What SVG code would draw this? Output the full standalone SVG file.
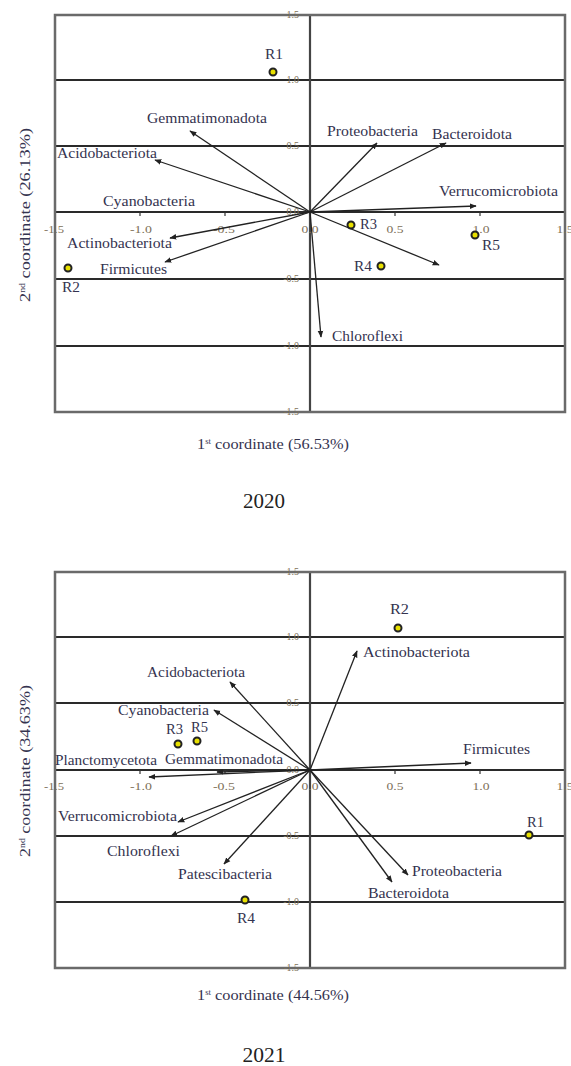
<svg xmlns="http://www.w3.org/2000/svg" width="571" height="1066" viewBox="0 0 571 1066">
<style>
.frame{fill:none;stroke:#6a6a6a;stroke-width:2.5}
.grid{stroke:#2a2a2a;stroke-width:2}
.vax{stroke:#444;stroke-width:2.2}
.tk{stroke:#333;stroke-width:1.2}
.vec{stroke:#222;stroke-width:1.3;fill:none;marker-end:url(#ah)}
.lbl{font-family:"Liberation Serif",serif;font-size:14px;fill:#34334f}
.tl{font-family:"Liberation Serif",serif;font-size:10px;fill:#7d7058}
.ax{font-family:"Liberation Serif",serif;font-size:15px;fill:#34334f}
.yr{font-family:"Liberation Serif",serif;font-size:20px;fill:#222}
.pt{fill:#e8e000;stroke:#222;stroke-width:2}
</style>
<defs>
<marker id="ah" viewBox="0 0 10 10" refX="9" refY="5" markerWidth="7" markerHeight="7" orient="auto" markerUnits="userSpaceOnUse">
<path d="M0,1 L10,5 L0,9 Z" fill="#222"/>
</marker>
</defs>
<rect width="571" height="1066" fill="#fff"/>

<!-- ===== 2020 plot ===== -->
<g id="plot2020">
<g id="axes2020">
<line class="grid" x1="55" y1="80" x2="565" y2="80"/>
<line class="grid" x1="55" y1="146" x2="565" y2="146"/>
<line class="grid" x1="55" y1="212" x2="565" y2="212"/>
<line class="grid" x1="55" y1="279" x2="565" y2="279"/>
<line class="grid" x1="55" y1="346" x2="565" y2="346"/>
<line class="vax" x1="310" y1="15" x2="310" y2="412"/>
<rect class="frame" x="55" y="15" width="510" height="397"/>
<g class="tk">
<line x1="140" y1="212" x2="140" y2="216"/><line x1="225" y1="212" x2="225" y2="216"/>
<line x1="395" y1="212" x2="395" y2="216"/><line x1="480" y1="212" x2="480" y2="216"/>
</g>
<g class="tl" text-anchor="middle">
<text x="54" y="233" textLength="20" lengthAdjust="spacingAndGlyphs">-1.5</text>
<text x="141" y="233" textLength="22" lengthAdjust="spacingAndGlyphs">-1.0</text>
<text x="224" y="233" textLength="22" lengthAdjust="spacingAndGlyphs">-0.5</text>
<text x="310" y="233" textLength="17" lengthAdjust="spacingAndGlyphs">0.0</text>
<text x="395" y="233" textLength="17" lengthAdjust="spacingAndGlyphs">0.5</text>
<text x="481" y="233" textLength="17" lengthAdjust="spacingAndGlyphs">1.0</text>
<text x="565" y="233" textLength="17" lengthAdjust="spacingAndGlyphs">1.5</text>
</g>
<g class="tl" text-anchor="end">
<text x="299" y="18">1.5</text>
<text x="299" y="83">1.0</text>
<text x="299" y="149">0.5</text>
<text x="299" y="215">0.0</text>
<text x="299" y="282">-0.5</text>
<text x="299" y="349">-1.0</text>
<text x="299" y="415">-1.5</text>
</g>
<text class="ax" x="273" y="449" text-anchor="middle" textLength="152" lengthAdjust="spacingAndGlyphs">1<tspan font-size="8" dy="-5">st</tspan><tspan dy="5"> coordinate (56.53%)</tspan></text>
<text class="ax" transform="translate(30,215) rotate(-90)" text-anchor="middle" textLength="174" lengthAdjust="spacingAndGlyphs">2<tspan font-size="8" dy="-5">nd</tspan><tspan dy="5"> coordinate (26.13%)</tspan></text>
<text class="yr" x="264" y="508" text-anchor="middle" textLength="42" lengthAdjust="spacingAndGlyphs">2020</text>
</g>
<g id="connectors2020">
<line class="vec" x1="310" y1="212" x2="190" y2="131"/>
<line class="vec" x1="310" y1="212" x2="155" y2="160"/>
<line class="vec" x1="310" y1="212" x2="170" y2="238"/>
<line class="vec" x1="310" y1="212" x2="165" y2="262"/>
<line class="vec" x1="310" y1="212" x2="377" y2="143"/>
<line class="vec" x1="310" y1="212" x2="446" y2="143"/>
<line class="vec" x1="310" y1="212" x2="476" y2="206"/>
<line class="vec" x1="310" y1="212" x2="439" y2="265"/>
<line class="vec" x1="310" y1="212" x2="321" y2="337"/>
</g>
<g class="lbl">
<text x="147" y="123" textLength="120" lengthAdjust="spacingAndGlyphs">Gemmatimonadota</text>
<text x="57" y="158" textLength="100" lengthAdjust="spacingAndGlyphs">Acidobacteriota</text>
<text x="103" y="206" textLength="92" lengthAdjust="spacingAndGlyphs">Cyanobacteria</text>
<text x="67" y="248" textLength="105" lengthAdjust="spacingAndGlyphs">Actinobacteriota</text>
<text x="100" y="274" textLength="67" lengthAdjust="spacingAndGlyphs">Firmicutes</text>
<text x="327" y="136" textLength="91" lengthAdjust="spacingAndGlyphs">Proteobacteria</text>
<text x="432" y="139" textLength="80" lengthAdjust="spacingAndGlyphs">Bacteroidota</text>
<text x="439" y="196" textLength="119" lengthAdjust="spacingAndGlyphs">Verrucomicrobiota</text>
<text x="332" y="341" textLength="71" lengthAdjust="spacingAndGlyphs">Chloroflexi</text>
</g>
<g id="R1_2020"><circle class="pt" cx="273" cy="72" r="3.5"/><text class="lbl" x="265" y="59" textLength="18" lengthAdjust="spacingAndGlyphs">R1</text></g>
<g id="R2_2020"><circle class="pt" cx="68" cy="268" r="3.5"/><text class="lbl" x="62" y="292" textLength="18" lengthAdjust="spacingAndGlyphs">R2</text></g>
<g id="R3_2020"><circle class="pt" cx="351" cy="225" r="3.5"/><text class="lbl" x="360" y="229" textLength="17" lengthAdjust="spacingAndGlyphs">R3</text></g>
<g id="R4_2020"><circle class="pt" cx="381" cy="266" r="3.5"/><text class="lbl" x="354" y="271" textLength="18" lengthAdjust="spacingAndGlyphs">R4</text></g>
<g id="R5_2020"><circle class="pt" cx="475" cy="235" r="3.5"/><text class="lbl" x="482" y="250" textLength="18" lengthAdjust="spacingAndGlyphs">R5</text></g>
</g>

<!-- ===== 2021 plot ===== -->
<g id="plot2021">
<g id="axes2021">
<line class="grid" x1="55" y1="637" x2="565" y2="637"/>
<line class="grid" x1="55" y1="703" x2="565" y2="703"/>
<line class="grid" x1="55" y1="770" x2="565" y2="770"/>
<line class="grid" x1="55" y1="836" x2="565" y2="836"/>
<line class="grid" x1="55" y1="902" x2="565" y2="902"/>
<line class="vax" x1="310" y1="572" x2="310" y2="968"/>
<rect class="frame" x="55" y="572" width="510" height="396"/>
<g class="tk">
<line x1="140" y1="770" x2="140" y2="774"/><line x1="225" y1="770" x2="225" y2="774"/>
<line x1="395" y1="770" x2="395" y2="774"/><line x1="480" y1="770" x2="480" y2="774"/>
</g>
<g class="tl" text-anchor="middle">
<text x="54" y="790" textLength="20" lengthAdjust="spacingAndGlyphs">-1.5</text>
<text x="141" y="790" textLength="22" lengthAdjust="spacingAndGlyphs">-1.0</text>
<text x="224" y="790" textLength="22" lengthAdjust="spacingAndGlyphs">-0.5</text>
<text x="310" y="790" textLength="17" lengthAdjust="spacingAndGlyphs">0.0</text>
<text x="395" y="790" textLength="17" lengthAdjust="spacingAndGlyphs">0.5</text>
<text x="481" y="790" textLength="17" lengthAdjust="spacingAndGlyphs">1.0</text>
<text x="565" y="790" textLength="17" lengthAdjust="spacingAndGlyphs">1.5</text>
</g>
<g class="tl" text-anchor="end">
<text x="299" y="575">1.5</text>
<text x="299" y="640">1.0</text>
<text x="299" y="706">0.5</text>
<text x="299" y="773">0.0</text>
<text x="299" y="839">-0.5</text>
<text x="299" y="905">-1.0</text>
<text x="299" y="971">-1.5</text>
</g>
<text class="ax" x="273" y="1000" text-anchor="middle" textLength="152" lengthAdjust="spacingAndGlyphs">1<tspan font-size="8" dy="-5">st</tspan><tspan dy="5"> coordinate (44.56%)</tspan></text>
<text class="ax" transform="translate(30,771) rotate(-90)" text-anchor="middle" textLength="172" lengthAdjust="spacingAndGlyphs">2<tspan font-size="8" dy="-5">nd</tspan><tspan dy="5"> coordinate (34.63%)</tspan></text>
<text class="yr" x="264" y="1062" text-anchor="middle" textLength="43" lengthAdjust="spacingAndGlyphs">2021</text>
</g>
<g id="connectors2021">
<line class="vec" x1="310" y1="770" x2="230" y2="682"/>
<line class="vec" x1="310" y1="770" x2="214" y2="710"/>
<line class="vec" x1="310" y1="770" x2="149" y2="777"/>
<line class="vec" x1="310" y1="770" x2="217" y2="772"/>
<line class="vec" x1="310" y1="770" x2="178" y2="822"/>
<line class="vec" x1="310" y1="770" x2="171" y2="836"/>
<line class="vec" x1="310" y1="770" x2="224" y2="864"/>
<line class="vec" x1="310" y1="770" x2="357" y2="651"/>
<line class="vec" x1="310" y1="770" x2="471" y2="763"/>
<line class="vec" x1="310" y1="770" x2="408" y2="875"/>
<line class="vec" x1="310" y1="770" x2="392" y2="882"/>
</g>
<g class="lbl">
<text x="147" y="677" textLength="98" lengthAdjust="spacingAndGlyphs">Acidobacteriota</text>
<text x="118" y="715" textLength="91" lengthAdjust="spacingAndGlyphs">Cyanobacteria</text>
<text x="55" y="765" textLength="102" lengthAdjust="spacingAndGlyphs">Planctomycetota</text>
<text x="165" y="764" textLength="118" lengthAdjust="spacingAndGlyphs">Gemmatimonadota</text>
<text x="58" y="821" textLength="119" lengthAdjust="spacingAndGlyphs">Verrucomicrobiota</text>
<text x="107" y="856" textLength="73" lengthAdjust="spacingAndGlyphs">Chloroflexi</text>
<text x="178" y="879" textLength="94" lengthAdjust="spacingAndGlyphs">Patescibacteria</text>
<text x="363" y="657" textLength="107" lengthAdjust="spacingAndGlyphs">Actinobacteriota</text>
<text x="463" y="754" textLength="67" lengthAdjust="spacingAndGlyphs">Firmicutes</text>
<text x="412" y="876" textLength="90" lengthAdjust="spacingAndGlyphs">Proteobacteria</text>
<text x="368" y="898" textLength="81" lengthAdjust="spacingAndGlyphs">Bacteroidota</text>
</g>
<g id="R1_2021"><circle class="pt" cx="529" cy="835" r="3.5"/><text class="lbl" x="527" y="827" textLength="17" lengthAdjust="spacingAndGlyphs">R1</text></g>
<g id="R2_2021"><circle class="pt" cx="398" cy="628" r="3.5"/><text class="lbl" x="390" y="614" textLength="19" lengthAdjust="spacingAndGlyphs">R2</text></g>
<g id="R3_2021"><circle class="pt" cx="178" cy="744" r="3.5"/><text class="lbl" x="166" y="734" textLength="17" lengthAdjust="spacingAndGlyphs">R3</text></g>
<g id="R4_2021"><circle class="pt" cx="245" cy="900" r="3.5"/><text class="lbl" x="237" y="923" textLength="18" lengthAdjust="spacingAndGlyphs">R4</text></g>
<g id="R5_2021"><circle class="pt" cx="197" cy="741" r="3.5"/><text class="lbl" x="191" y="732" textLength="17" lengthAdjust="spacingAndGlyphs">R5</text></g>
</g>
</svg>
